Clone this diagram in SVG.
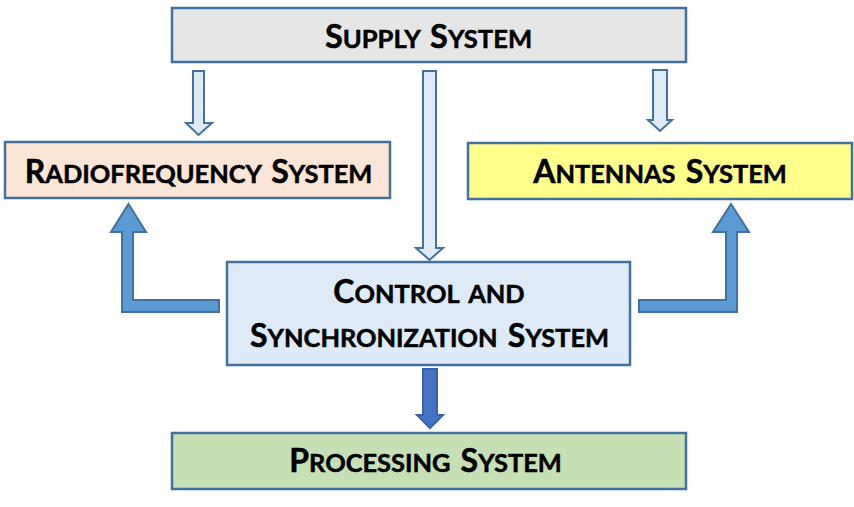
<svg xmlns="http://www.w3.org/2000/svg" width="854" height="507" viewBox="0 0 854 507">
<style>
.box{stroke:#41719c;stroke-width:2.5}
.lbl{font-family:Lato,"Open Sans","Liberation Sans",sans-serif;font-weight:700;fill:#000;stroke:#000;stroke-width:0.5;text-anchor:middle;word-spacing:4px}
.b{font-size:32px}
.s{font-size:25.4px}
.light{fill:#deebf7;stroke:#41719c;stroke-width:2}
.mid{fill:#5b9bd5;stroke:#41719c;stroke-width:2}
.dark{fill:#4472c4;stroke:#3a62a6;stroke-width:2}
</style>
<rect width="854" height="507" fill="#fff"/>
<g id="connectors">
<polygon class="light" points="193,71 204,71 204,123 212,123 198.5,135 186,123 193,123"/>
<polygon class="light" points="653,70 667,70 667,120 672,120 660,131 648,120 653,120"/>
<polygon class="light" points="423,71 436,71 436,248 443,248 429.5,260 416,248 423,248"/>
<polygon class="mid" points="128.5,204 146,232 133,232 133,300 219,300 219,312 122,312 122,232 111,232"/>
<polygon class="mid" points="731,204 749,232 737,232 737,312 639,312 639,300 726,300 726,232 713,232"/>
<polygon class="dark" points="423,369 437,369 437,415 443,415 430,428 417,415 423,415"/>
</g>
<g id="supply">
<rect class="box" x="172" y="8" width="514" height="54" fill="#e7e6e6"/>
<text class="lbl" x="428.5" y="48"><tspan style="font-size:32.5px">S</tspan><tspan style="font-size:25.6px">UPPLY </tspan><tspan style="font-size:32.5px">S</tspan><tspan style="font-size:25.6px">YSTEM</tspan></text>
</g>
<g id="radiofrequency">
<rect class="box" x="5" y="142" width="385" height="56" fill="#fbe5d6"/>
<text class="lbl" x="198.5" y="183"><tspan class="b">R</tspan><tspan class="s">ADIOFREQUENCY </tspan><tspan class="b">S</tspan><tspan class="s">YSTEM</tspan></text>
</g>
<g id="antennas">
<rect class="box" x="468" y="143" width="384" height="56" fill="#ffff8c"/>
<text class="lbl" x="660" y="183"><tspan class="b">A</tspan><tspan class="s">NTENNAS </tspan><tspan class="b">S</tspan><tspan class="s">YSTEM</tspan></text>
</g>
<g id="control">
<rect class="box" x="227" y="262" width="403" height="103" fill="#deebf7"/>
<text class="lbl" x="429" y="303"><tspan class="b">C</tspan><tspan class="s">ONTROL AND</tspan></text>
<text class="lbl" x="429.5" y="347"><tspan class="b">S</tspan><tspan class="s">YNCHRONIZATION </tspan><tspan class="b">S</tspan><tspan class="s">YSTEM</tspan></text>
</g>
<g id="processing">
<rect class="box" x="172" y="433" width="514" height="56" fill="#c5e0b4"/>
<text class="lbl" x="425.5" y="472"><tspan class="b">P</tspan><tspan class="s">ROCESSING </tspan><tspan class="b">S</tspan><tspan class="s">YSTEM</tspan></text>
</g>
</svg>
